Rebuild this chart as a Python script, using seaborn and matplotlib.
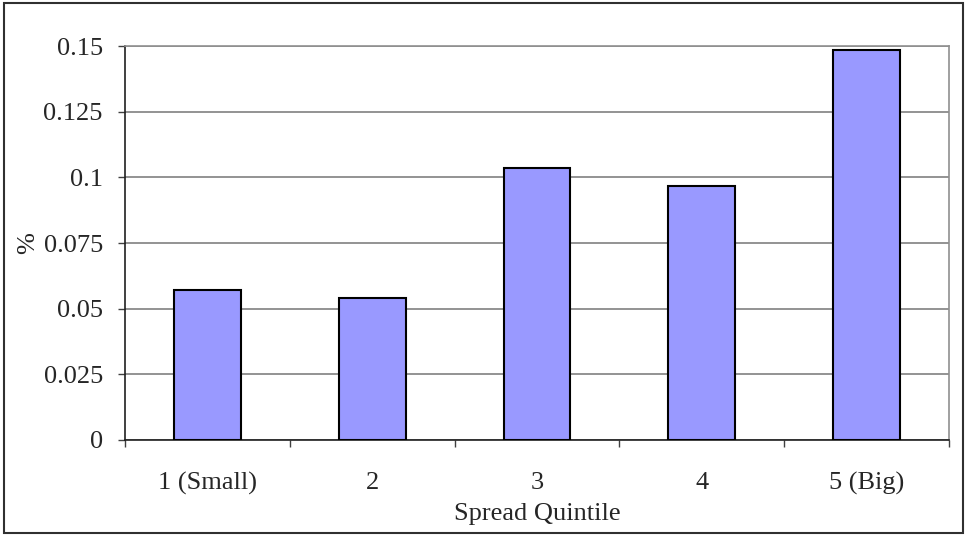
import pandas as pd
import numpy as np
import matplotlib.pyplot as plt
import seaborn as sns
from matplotlib.patches import Rectangle

# 数据
quintiles = ['1 (Small)', '2', '3', '4', '5 (Big)']
values = [0.0571, 0.0542, 0.1037, 0.0968, 0.1485]
y_ticks = [0, 0.025, 0.05, 0.075, 0.1, 0.125, 0.15]
y_tick_labels = ['0', '0.025', '0.05', '0.075', '0.1', '0.125', '0.15']

sns.set_style('white')
plt.rcParams['font.family'] = ['Liberation Serif', 'DejaVu Serif']

df = pd.DataFrame({'quintile': quintiles, 'value': values})

fig = plt.figure(figsize=(9.66, 5.36), dpi=100)
ax = fig.add_axes([125 / 966, 96 / 536, 824 / 966, 394 / 536])

sns.barplot(data=df, x='quintile', y='value', ax=ax, color='#9999FF',
            saturation=1, width=0.405, edgecolor='black', linewidth=1.5, zorder=3)

ax.set_xlim(-0.5, 4.5)
ax.set_ylim(0, 0.15)
ax.set_yticks(y_ticks)
ax.set_yticklabels(y_tick_labels)

# 网格线
ax.yaxis.grid(True, color='#808080', linewidth=1.2, zorder=0)
ax.xaxis.grid(False)

# x轴刻度：标签在中间，刻度线在类别边界
ax.set_xticks(np.arange(len(quintiles)))
ax.set_xticks(np.arange(-0.5, len(quintiles)), minor=True)
ax.tick_params(axis='x', which='major', length=0, pad=23, labelsize=19)
ax.tick_params(axis='x', which='minor', length=5, width=1, color='#404040', direction='out', bottom=True)
ax.tick_params(axis='y', which='major', length=5, width=1, color='#404040', direction='out', left=True,
               pad=11, labelsize=19)

for side in ['top', 'right']:
    ax.spines[side].set_color('#909090')
    ax.spines[side].set_linewidth(1.2)
for side in ['left', 'bottom']:
    ax.spines[side].set_color('#202020')
    ax.spines[side].set_linewidth(1.2)

ax.set_xlabel('Spread Quintile', fontsize=19, labelpad=6)
ax.set_ylabel('%', fontsize=19, labelpad=3)

# 外框
fig.patches.append(Rectangle((4 / 966, 3 / 536), 959 / 966, 530 / 536, transform=fig.transFigure,
                             fill=False, edgecolor='#303030', linewidth=1.5))

fig.savefig('out.png', dpi=100)
